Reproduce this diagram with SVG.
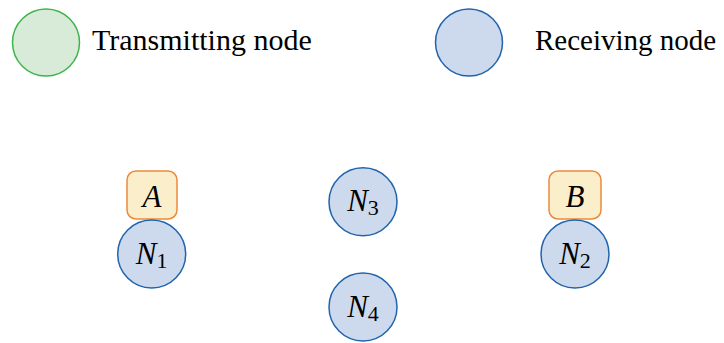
<svg xmlns="http://www.w3.org/2000/svg" width="724" height="343" viewBox="0 0 724 343">
<style>
.tx{fill:#d8ebd8;stroke:#3db54a;stroke-width:1.5}
.rx{fill:#cdd9ed;stroke:#1f64ad;stroke-width:1.5}
.lb{fill:#fbeecb;stroke:#ec8a3c;stroke-width:1.5}
</style>
<g id="legend-transmitting">
<circle class="tx" cx="46" cy="42.5" r="33.5"/>
</g>
<g id="legend-receiving">
<circle class="rx" cx="469" cy="42.5" r="33.5"/>
</g>
<g id="connectors"></g>
<g id="A">
<rect class="lb" x="127" y="171" width="50" height="48" rx="9"/>
</g>
<g id="B">
<rect class="lb" x="549" y="171" width="52" height="48" rx="9"/>
</g>
<g id="N1">
<circle class="rx" cx="151.7" cy="254" r="34"/>
</g>
<g id="N2">
<circle class="rx" cx="575" cy="254" r="34"/>
</g>
<g id="N3">
<circle class="rx" cx="363" cy="201.7" r="34"/>
</g>
<g id="N4">
<circle class="rx" cx="363" cy="307" r="34"/>
</g>
<text x="92" y="50" font-family="Liberation Serif" font-size="30">Transmitting node</text>
<text x="535" y="50" font-family="Liberation Serif" font-size="29">Receiving node</text>
<text x="152" y="207" font-family="Liberation Serif" font-style="italic" font-size="31" text-anchor="middle">A</text>
<text x="575" y="207" font-family="Liberation Serif" font-style="italic" font-size="31" text-anchor="middle">B</text>
<text x="151.7" y="263.5" font-family="Liberation Serif" font-style="italic" font-size="31" text-anchor="middle">N<tspan font-style="normal" font-size="22" dy="4">1</tspan></text>
<text x="575" y="263.5" font-family="Liberation Serif" font-style="italic" font-size="31" text-anchor="middle">N<tspan font-style="normal" font-size="22" dy="4">2</tspan></text>
<text x="363" y="211" font-family="Liberation Serif" font-style="italic" font-size="31" text-anchor="middle">N<tspan font-style="normal" font-size="22" dy="4">3</tspan></text>
<text x="363" y="316.5" font-family="Liberation Serif" font-style="italic" font-size="31" text-anchor="middle">N<tspan font-style="normal" font-size="22" dy="4">4</tspan></text>
</svg>
